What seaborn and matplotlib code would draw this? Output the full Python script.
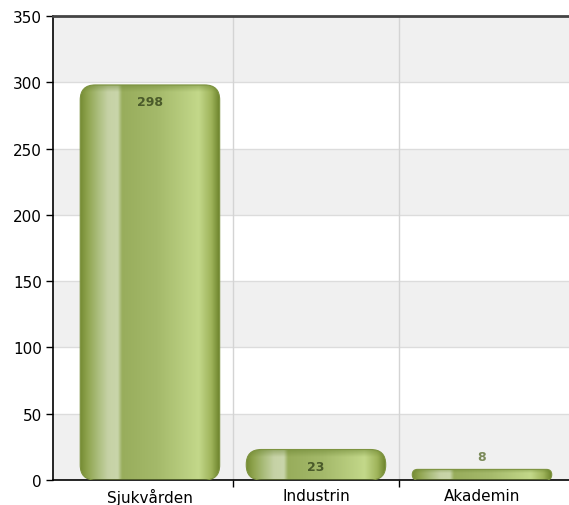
import numpy as np
import pandas as pd
import seaborn as sns
import matplotlib
matplotlib.use("Agg")
import matplotlib.pyplot as plt
from matplotlib.patches import FancyBboxPatch
from matplotlib.transforms import IdentityTransform
from matplotlib.colors import LinearSegmentedColormap

# data
categories = ["Sjukvården", "Industrin", "Akademin"]
counts = [298, 23, 8]
y_ticks = [0, 50, 100, 150, 200, 250, 300, 350]

df = pd.DataFrame({"category": categories, "count": counts})

sns.set_style("white")
plt.rcParams["font.family"] = ["DejaVu Sans"]

fig = plt.figure(figsize=(5.69, 5.06), dpi=100)
ax = fig.add_axes([53 / 569, 25 / 506, 516 / 569, 464 / 506])

sns.barplot(data=df, x="category", y="count", ax=ax, width=0.84, color="#9bb060")

ax.set_xlim(-0.584, 2.524)
ax.set_ylim(0, 350)
ax.set_xlabel("")
ax.set_ylabel("")

# alternating bands
for i in range(len(y_ticks) - 1):
    if i % 2 == 0:
        ax.axhspan(y_ticks[i], y_ticks[i + 1], color="#f0f0f0", zorder=0, lw=0)
for y in y_ticks[1:-1]:
    ax.axhline(y, color="#dcdcdc", lw=1, zorder=0.5)
for x in [0.5, 1.5]:
    ax.axvline(x, color="#d4d4d4", lw=1, zorder=0.5)

ax.set_yticks(y_ticks)
ax.set_xticks([0.5, 1.5], minor=True)
ax.tick_params(axis="x", which="major", length=0, labelsize=11, pad=6, labelcolor="black")
ax.tick_params(axis="x", which="minor", length=5, width=1, color="black", direction="out")
ax.tick_params(axis="y", length=5, width=1, color="black", direction="out", labelsize=11,
               pad=3, labelcolor="black")
ax.xaxis.set_ticks_position("bottom")
ax.yaxis.set_ticks_position("left")

for side in ["left", "bottom"]:
    ax.spines[side].set_color("black")
    ax.spines[side].set_linewidth(1.2)
ax.spines["top"].set_color("#444444")
ax.spines["top"].set_linewidth(2)
ax.spines["right"].set_visible(False)

# gradient for the bars
bar_cmap = LinearSegmentedColormap.from_list("olive", [
    (0.00, "#758b33"), (0.05, "#8ea34d"), (0.12, "#a8bb78"), (0.20, "#c6d2a6"),
    (0.27, "#c9d5aa"), (0.30, "#98ad5c"), (0.55, "#a4b96a"), (0.85, "#c3d88a"),
    (0.94, "#9fb45b"), (1.00, "#6c822b"),
])
grad = np.linspace(0, 1, 256).reshape(1, -1)
rim_cmap = LinearSegmentedColormap.from_list(
    "rim", [(0, (0.40, 0.50, 0.18, 0.0)), (1, (0.40, 0.50, 0.18, 0.45))])

fig.canvas.draw()
px_per_unit = ax.transData.transform((0, 1))[1] - ax.transData.transform((0, 0))[1]
for p, val in zip(list(ax.patches), counts):
    x0, y0 = p.get_x(), p.get_y()
    w, h = p.get_width(), p.get_height()
    p.set_visible(False)
    (px0, py0) = ax.transData.transform((x0, y0))
    (px1, py1) = ax.transData.transform((x0 + w, y0 + h))
    hp = py1 - py0
    r = min(15, hp / 2, (px1 - px0) / 2)
    box = FancyBboxPatch((px0, py0), px1 - px0, hp,
                         boxstyle=f"round,pad=0,rounding_size={r}",
                         transform=IdentityTransform(), facecolor="none",
                         edgecolor="#7d9340", lw=0.8, zorder=3)
    ax.add_artist(box)
    img = ax.imshow(grad, extent=[x0, x0 + w, y0, y0 + h], aspect="auto",
                    cmap=bar_cmap, zorder=2, interpolation="bicubic")
    img.set_clip_path(box)
    # darker rim along the top, a few pixels deep
    rim_h = min(7, hp / 3) / px_per_unit
    rim = ax.imshow(np.linspace(0, 1, 32).reshape(-1, 1),
                    extent=[x0, x0 + w, y0 + h - rim_h, y0 + h],
                    aspect="auto", cmap=rim_cmap, origin="lower", zorder=2.5,
                    interpolation="bilinear")
    rim.set_clip_path(box)

    cx = x0 + w / 2
    if hp > 25:
        ax.annotate(str(val), (cx, y0 + h), xytext=(0, -17), textcoords="offset pixels",
                    ha="center", va="center", fontsize=9, fontweight="bold",
                    color="#4a5a2a", zorder=4)
    else:
        ax.annotate(str(val), (cx, y0 + h), xytext=(0, 13), textcoords="offset pixels",
                    ha="center", va="center", fontsize=9, fontweight="bold",
                    color="#7b8a5a", zorder=4)

ax.set_ylim(0, 350)
ax.set_xlim(-0.584, 2.524)
fig.savefig("out.png", dpi=100)
